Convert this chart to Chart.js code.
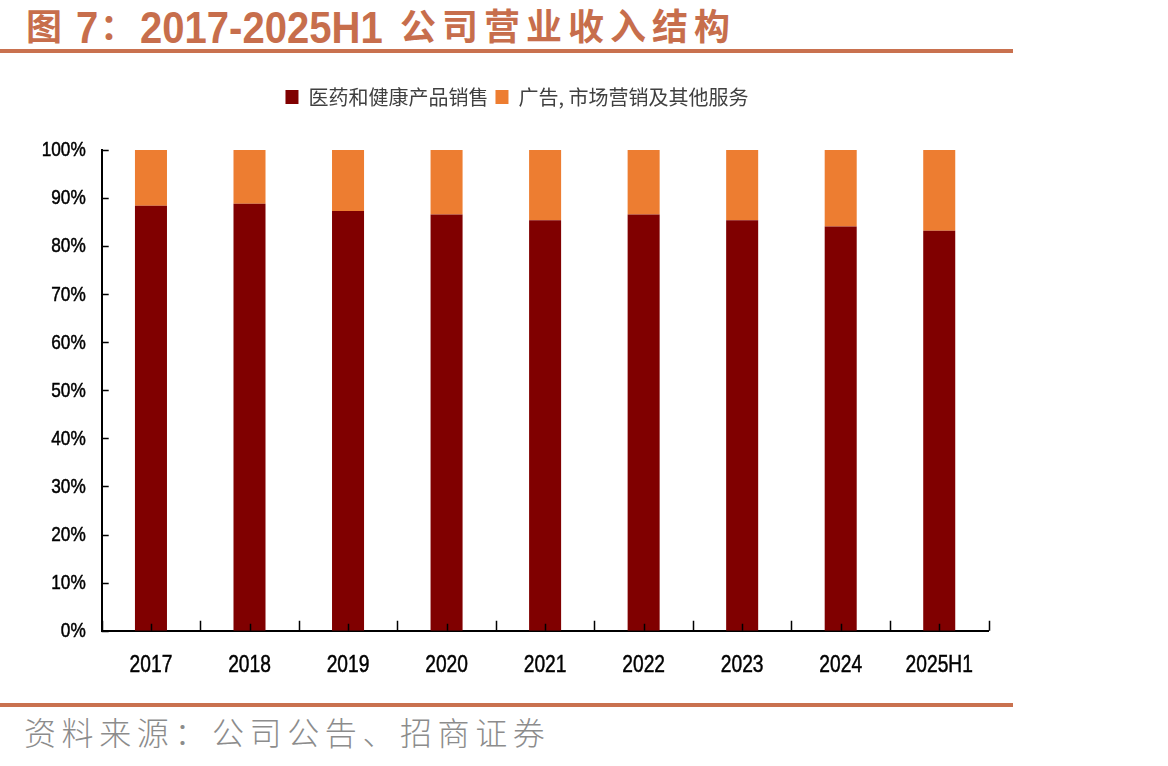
<!DOCTYPE html>
<html>
<head>
<meta charset="utf-8">
<script src="https://cdn.jsdelivr.net/npm/chart.js@4.4.1/dist/chart.umd.min.js"></script>
<style>
    body { margin: 0; width: 1168px; height: 766px; background: #fff; overflow: hidden; position: relative; }
    .cjk { font-family: "Noto Sans CJK SC", sans-serif; }
    .narrow { font-family: "Liberation Sans", Arial, sans-serif; transform: scaleX(0.89); transform-origin: 0 0; }
    .title span { position: absolute; color: #C76E4C; font-weight: bold; white-space: pre; line-height: 1; }
    .rule { position: absolute; left: 0; width: 1013px; height: 4px; background: #C9714F; }
    #source { position: absolute; left: 24px; top: 712px; font-size: 32px; color: #8c8c8c; font-weight: 300; letter-spacing: 5.6px; white-space: pre; line-height: 1.2; }
    #wrap { position: absolute; left: 0; top: 60px; width: 1030px; height: 640px; }
</style>
</head>
<body>
<div class="title">
    <span class="cjk" style="left:26px; top:6px; font-size:36px;">图</span>
    <span class="narrow" style="left:76px; top:5px; font-size:45px;">7</span>
    <span class="cjk" style="left:100px; top:6px; font-size:36px;">：</span>
    <span class="narrow" style="left:140px; top:5px; font-size:45px;">2017-2025H1</span>
    <span class="cjk" style="left:400px; top:6px; font-size:36px; letter-spacing:6px;">公司营业收入结构</span>
</div>
<div class="rule" style="top:49px;"></div>
<div id="wrap"><canvas id="mixChart"></canvas></div>
<div class="rule" style="top:703px;"></div>
<div id="source" class="cjk">资料来源：公司公告、招商证券</div>

<script>
    // Data (share of revenue, %)
    const categories = ['2017', '2018', '2019', '2020', '2021', '2022', '2023', '2024', '2025H1'];
    const medicalShare = [88.4, 88.8, 87.3, 86.6, 85.4, 86.6, 85.4, 84.1, 83.2];
    const adsShare = [11.6, 11.2, 12.7, 13.4, 14.6, 13.4, 14.6, 15.9, 16.8];
    const seriesNames = ['医药和健康产品销售', '广告, 市场营销及其他服务'];
    const yTicks = [0, 10, 20, 30, 40, 50, 60, 70, 80, 90, 100];

    // Excel-like inward tick marks plus condensed tick labels
    const axisTicks = {
        id: 'axisTicks',
        afterDatasetsDraw(chart) {
            const ctx = chart.ctx;
            const x = chart.scales.x;
            const y = chart.scales.y;
            const area = chart.chartArea;
            ctx.save();
            ctx.strokeStyle = '#000';
            ctx.lineWidth = 1.5;
            ctx.beginPath();
            yTicks.forEach(function (v) {
                const py = Math.round(y.getPixelForValue(v)) + 0.5;
                ctx.moveTo(area.left, py);
                ctx.lineTo(area.left + 7, py);
            });
            const half = (x.getPixelForValue(1) - x.getPixelForValue(0)) / 2;
            for (let i = 0; i <= categories.length; i++) {
                const px = Math.round(x.getPixelForValue(i) - half) + 0.5;
                ctx.moveTo(px, area.bottom);
                ctx.lineTo(px, area.bottom - 10);
            }
            categories.forEach(function (c, i) {
                const px = Math.round(x.getPixelForValue(i)) + 0.5;
                ctx.moveTo(px, area.bottom);
                ctx.lineTo(px, area.bottom - 7);
            });
            ctx.stroke();

            // labels, squeezed horizontally like the original
            ctx.fillStyle = '#000';
            ctx.strokeStyle = '#000';
            ctx.lineWidth = 0.5;
            ctx.textBaseline = 'middle';
            ctx.font = '24px "Liberation Sans", Arial, sans-serif';
            ctx.textAlign = 'center';
            categories.forEach(function (c, i) {
                ctx.save();
                ctx.translate(x.getPixelForValue(i), area.bottom + 34.5);
                ctx.scale(0.8, 1);
                ctx.fillText(c, 0, 0);
                ctx.strokeText(c, 0, 0);
                ctx.restore();
            });
            ctx.font = '21px "Liberation Sans", Arial, sans-serif';
            ctx.textAlign = 'right';
            yTicks.forEach(function (v) {
                ctx.save();
                ctx.translate(area.left - 16, y.getPixelForValue(v) + 0.5);
                ctx.scale(0.82, 1);
                ctx.fillText(v + '%', 0, 0);
                ctx.strokeText(v + '%', 0, 0);
                ctx.restore();
            });
            ctx.restore();
        }
    };

    // Make room between the legend and the plot
    const legendSpace = {
        id: 'legendSpace',
        beforeInit(chart) {
            const origFit = chart.legend.fit;
            chart.legend.fit = function () {
                origFit.bind(chart.legend)();
                this.height = 70;
            };
        }
    };

    new Chart(document.getElementById('mixChart'), {
        type: 'bar',
        data: {
            labels: categories,
            datasets: [{
                label: seriesNames[0],
                data: medicalShare,
                backgroundColor: '#800000',
                barPercentage: 0.65,
                categoryPercentage: 0.5
            }, {
                label: seriesNames[1],
                data: adsShare,
                backgroundColor: '#ED7D31',
                barPercentage: 0.65,
                categoryPercentage: 0.5
            }]
        },
        options: {
            responsive: true,
            maintainAspectRatio: false,
            animation: false,
            layout: {
                padding: { top: 20, right: 41.5, left: 45.5, bottom: 0 }
            },
            plugins: {
                legend: {
                    position: 'top',
                    labels: {
                        color: '#404040',
                        boxWidth: 13,
                        boxHeight: 14,
                        padding: 7,
                        font: { family: '"Noto Sans CJK SC", sans-serif', size: 20 }
                    }
                },
                tooltip: { enabled: false }
            },
            scales: {
                x: {
                    stacked: true,
                    grid: { display: false, drawTicks: false },
                    border: { display: true, color: '#000', width: 2 },
                    ticks: { display: false },
                    afterFit(scale) { scale.height = 69.3; }
                },
                y: {
                    stacked: true,
                    min: 0,
                    max: 100,
                    grid: { display: false, drawTicks: false },
                    border: { display: true, color: '#000', width: 2 },
                    ticks: { display: false, stepSize: 10 },
                    afterFit(scale) { scale.width = 56.2; }
                }
            }
        },
        plugins: [axisTicks, legendSpace]
    });
</script>
</body>
</html>
